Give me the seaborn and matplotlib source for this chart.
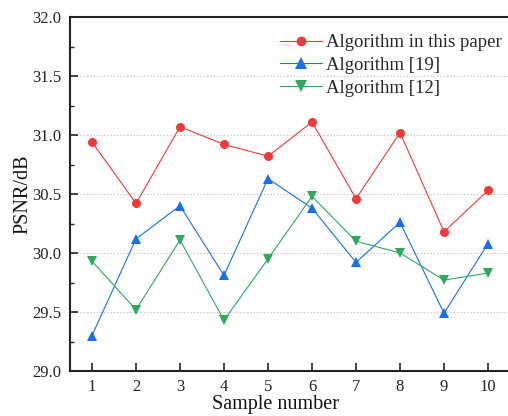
import numpy as np
import pandas as pd
import matplotlib
matplotlib.use("Agg")
import matplotlib.pyplot as plt
import seaborn as sns
from matplotlib.ticker import MultipleLocator

samples = [1, 2, 3, 4, 5, 6, 7, 8, 9, 10]
ours = [30.94, 30.42, 31.07, 30.92, 30.82, 31.11, 30.46, 31.02, 30.18, 30.53]
alg19 = [29.30, 30.12, 30.40, 29.81, 30.63, 30.38, 29.92, 30.26, 29.49, 30.08]
alg12 = [29.93, 29.52, 30.11, 29.43, 29.95, 30.48, 30.10, 30.00, 29.77, 29.83]
series_names = ["Algorithm in this paper", "Algorithm [19]", "Algorithm [12]"]

df = pd.DataFrame({
    "Sample": samples * 3,
    "PSNR": ours + alg19 + alg12,
    "Method": [series_names[0]] * 10 + [series_names[1]] * 10 + [series_names[2]] * 10,
})

sns.set_theme(style="white")
plt.rcParams["font.family"] = ["Liberation Serif", "DejaVu Serif"]

fig = plt.figure(figsize=(5.08, 4.16), dpi=100)
ax = fig.add_axes([70 / 508, 1 - 371 / 416, (510 - 70) / 508, (371 - 17) / 416])

palette = {series_names[0]: "#EE3A3A", series_names[1]: "#1A6EE6", series_names[2]: "#2FA85E"}
markers = {series_names[0]: "o", series_names[1]: "^", series_names[2]: "v"}

sns.lineplot(data=df, x="Sample", y="PSNR", hue="Method", style="Method",
             palette=palette, markers=markers, dashes=False, markersize=7.5,
             markeredgewidth=0, linewidth=0.8, ax=ax, legend=True)
for line in ax.get_lines():
    if line.get_marker() == "o":
        line.set_markersize(6.5)

ax.set_xlim(0.5, 10.5)
ax.set_ylim(29.0, 32.0)
ax.xaxis.set_major_locator(MultipleLocator(1))
ax.yaxis.set_major_locator(MultipleLocator(0.5))
ax.yaxis.set_minor_locator(MultipleLocator(0.25))
ax.yaxis.set_major_formatter(matplotlib.ticker.FormatStrFormatter("%.1f"))
ax.tick_params(axis="both", which="major", direction="in", length=6, width=1.2,
               labelsize=12, colors="#222222")
ax.tick_params(axis="y", which="minor", direction="in", length=3, width=1.0)
ax.tick_params(axis="x", which="major", bottom=True, pad=6)
ax.tick_params(axis="y", which="both", left=True, pad=6)

for y in [29.5, 30.0, 30.5, 31.0, 31.5]:
    ax.axhline(y, color="#BBBBBB", linestyle=(0, (1, 2)), linewidth=0.8, zorder=0)

for s in ["left", "bottom", "top", "right"]:
    ax.spines[s].set_color("#222222")
    ax.spines[s].set_linewidth(1.5)

ax.set_xlabel("Sample number", fontsize=14.5, color="#111111")
ax.xaxis.set_label_coords((276 - 70) / 440, -0.068)
ax.set_ylabel("PSNR/dB", fontsize=14.5, color="#111111")
ax.yaxis.set_label_coords(-38 / 440, 0.5)

leg = ax.legend(loc="upper right", bbox_to_anchor=((502 - 70) / 440, (371 - 34) / 354),
                frameon=False, fontsize=13.5, handlelength=2.2, handletextpad=0.25,
                labelspacing=0.3, borderaxespad=0, borderpad=0)
for h in leg.legend_handles:
    if h.get_marker() == "o":
        h.set_markersize(7)
    else:
        h.set_markersize(8)

fig.savefig("out.png", dpi=100)
